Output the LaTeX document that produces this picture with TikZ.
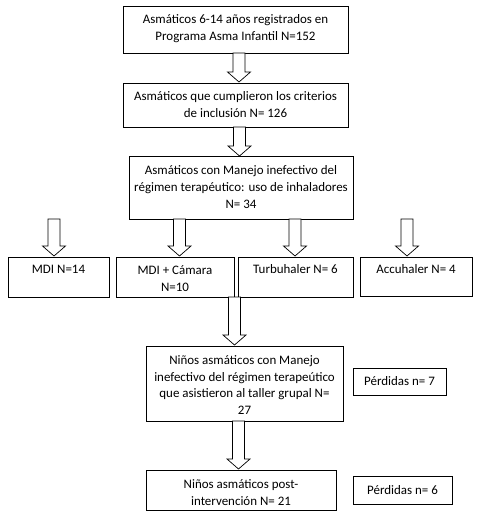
\documentclass[tikz,border=0pt]{standalone}
\usepackage{fontspec}
\setmainfont{Carlito}
\newcommand\blockarrow[4]{% name, x, ytop, ybottom
  \draw[arr] ({#2-6},#3) -- ({#2+6},#3) -- ({#2+6},{#4-10}) -- ({#2+11.5},{#4-10})
    -- (#2,#4) -- ({#2-11.5},{#4-10}) -- ({#2-6},{#4-10}) -- cycle;
  \coordinate (#1) at (#2,#4);}
\begin{document}
\begin{tikzpicture}[x=1bp,y=-1bp,
  box/.style={draw=black,line width=0.8pt},
  arr/.style={draw=black,line width=0.7pt,fill=white,line join=miter},
  txt/.style={align=center,inner sep=0pt,font=\fontsize{13}{17}\selectfont}]
\useasboundingbox[fill=white] (0,0) rectangle (477,519);
% boxes
\draw[box] (123,6) rectangle (348,53);
\node[txt] (b1) at (235.5,29) {Asmáticos 6-14 años registrados en\\Programa Asma Infantil N=152};
\draw[box] (123,83) rectangle (348,127);
\node[txt] (b2) at (235.5,105) {Asmáticos que cumplieron los criterios\\de inclusión N= 126};
\draw[box] (129,156) rectangle (353,219);
\node[txt] (b3) at (241,187) {Asmáticos con Manejo inefectivo del\\régimen terapéutico: uso de inhaladores\\N= 34};
\draw[box] (8,257) rectangle (109,297);
\node[txt] (m1) at (58.5,269) {MDI N=14};
\draw[box] (116,257) rectangle (234,297);
\node[txt] (m2) at (175,278.5) {MDI + Cámara\\N=10};
\draw[box] (238,257) rectangle (353,297);
\node[txt] (m3) at (295.5,269) {Turbuhaler N= 6};
\draw[box] (360,257) rectangle (472,296);
\node[txt] (m4) at (416,269) {Accuhaler N= 4};
\draw[box] (146,346) rectangle (343,421);
\node[txt] (n1) at (244.5,385) {Niños asmáticos con Manejo\\inefectivo del régimen terapeútico\\que asistieron al taller grupal N=\\27};
\draw[box] (353,368) rectangle (446,395);
\node[txt] (p1) at (399.5,381) {Pérdidas n= 7};
\draw[box] (146,470) rectangle (336,510);
\node[txt] (n2) at (241,492.5) {Niños asmáticos post-\\intervención N= 21};
\draw[box] (353,476) rectangle (452,504);
\node[txt] (p2) at (402.5,490) {Pérdidas n= 6};
% block arrows
\blockarrow{a1}{239}{53}{82}
\blockarrow{a2}{239.5}{127}{156}
\blockarrow{a3}{54}{219}{256}
\blockarrow{a4}{179.5}{219}{256}
\blockarrow{a5}{295}{219}{256}
\blockarrow{a6}{407}{219}{256}
\blockarrow{a7}{234.5}{297}{345}
\blockarrow{a8}{238.5}{421}{469}
\end{tikzpicture}
\end{document}
